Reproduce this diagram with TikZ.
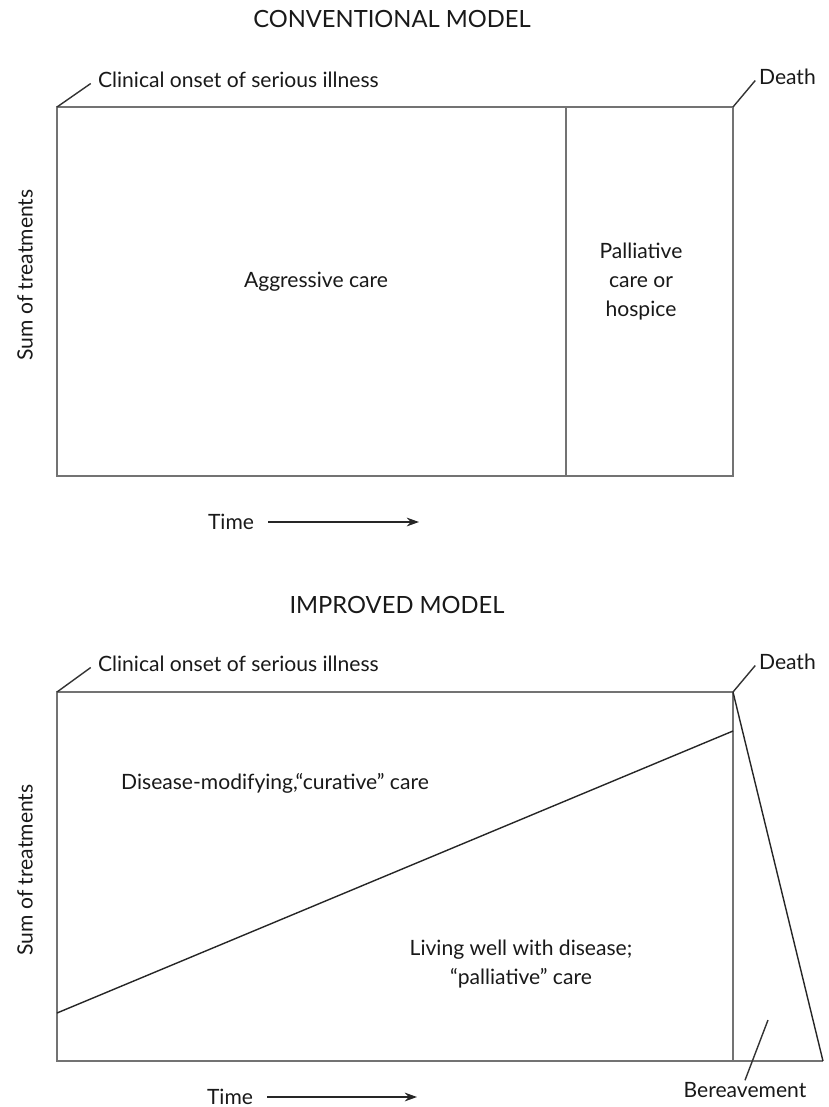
\documentclass[tikz,border=0pt]{standalone}
\usepackage{fontspec}
\setmainfont{Lato}
\usetikzlibrary{positioning, calc, arrows.meta}
\tikzset{
    frame/.style={draw=black!55, line width=1.1pt},
    curve/.style={draw=black!85, line width=0.8pt},
    lbl/.style={font=\fontsize{12}{16.5}\selectfont, inner sep=1pt, align=center, text=black!90},
    ttl/.style={font=\fontsize{13.5}{16}\selectfont, inner sep=1pt, text=black!90},
    tick/.style={draw=black!80, line width=0.8pt},
    timearrow/.style={-{Stealth[length=7pt,width=5pt]}, draw=black!85, line width=0.8pt}
}

\begin{document}
\begin{tikzpicture}[x=0.02cm, y=-0.02cm]
\useasboundingbox (0,0) rectangle (829,1107);

% --- Conventional model ---
\node[ttl] (title1) at (392,19) {CONVENTIONAL MODEL};

\coordinate (c1nw) at (57,107);
\coordinate (c1ne) at (733,107);
\coordinate (c1se) at (733,476);
\coordinate (c1sw) at (57,476);
\coordinate (c1dt) at (566,107);
\coordinate (c1db) at (566,476);
\draw[frame] (c1nw) -- (c1ne) -- (c1se) -- (c1sw) -- cycle;
\draw[frame] (c1dt) -- (c1db);

\node[lbl, anchor=west] (onset1) at (96,80) {Clinical onset of serious illness};
\draw[tick] (c1nw) -- ([xshift=-3pt,yshift=-2pt]onset1.west);
\node[lbl, anchor=west] (death1) at (757,77) {Death};
\draw[tick] (c1ne) -- ([xshift=-1pt,yshift=-2pt]death1.west);

\node[lbl, rotate=90] (sum1) at (25,275) {Sum of treatments};
\node[lbl] (aggr) at (316,282) {Aggressive care};
\node[lbl] (pall) at (641,282) {Palliative\\care or\\hospice};

\node[lbl] (time1) at (231,522) {Time};
\coordinate (time1end) at (419,525);
\draw[timearrow] ([xshift=7pt]time1.east) -- (time1.east -| time1end);

% --- Improved model ---
\node[ttl] (title2) at (397,605) {IMPROVED MODEL};

\coordinate (c2nw) at (57,692);
\coordinate (c2ne) at (733,692);
\coordinate (c2se) at (733,1061);
\coordinate (c2sw) at (57,1061);
\coordinate (c2tip) at (823,1061);
\coordinate (c2lo) at (57,1013);
\coordinate (c2hi) at (733,731);
\draw[frame] (c2ne) -- (c2nw) -- (c2sw) -- (c2tip);
\draw[frame] (c2ne) -- (c2se);
\draw[curve] (c2ne) -- (c2tip);
\draw[curve] (c2lo) -- (c2hi);

\node[lbl, anchor=west] (onset2) at (96,664) {Clinical onset of serious illness};
\draw[tick] (c2nw) -- ([xshift=-3pt,yshift=-2pt]onset2.west);
\node[lbl, anchor=west] (death2) at (757,662) {Death};
\draw[tick] (c2ne) -- ([xshift=-1pt,yshift=-2pt]death2.west);

\node[lbl, rotate=90] (sum2) at (25,870) {Sum of treatments};
\node[lbl] (cur) at (275,783) {Disease-modifying,``curative'' care};
\node[lbl] (liv) at (521,964) {Living well with disease;\\``palliative'' care};

\node[lbl] (bereave) at (745,1090) {Bereavement};
\coordinate (bereavept) at (768,1020);
\draw[tick] (bereave.north) -- (bereavept);

\node[lbl] (time2) at (230,1097) {Time};
\coordinate (time2end) at (417,1099);
\draw[timearrow] ([xshift=7pt]time2.east) -- (time2.east -| time2end);

\end{tikzpicture}
\end{document}
